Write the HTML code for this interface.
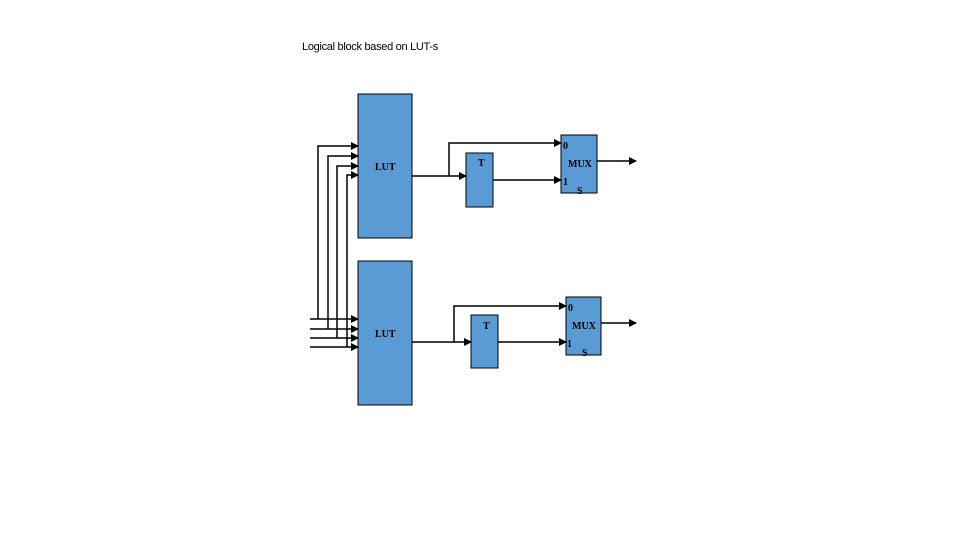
<!DOCTYPE html>
<html><head><meta charset="utf-8"><style>
html,body{margin:0;padding:0;background:#fff;}
svg{display:block;}
</style></head><body>
<svg width="960" height="540" xmlns="http://www.w3.org/2000/svg">
<defs><marker id="a" markerWidth="8" markerHeight="8" refX="7" refY="4" orient="auto" markerUnits="userSpaceOnUse"><path d="M0,0 L8,4 L0,8 z" fill="#000"/></marker></defs>
<text x="302" y="50" font-family="Liberation Sans Narrow, Liberation Sans, sans-serif" font-size="11" letter-spacing="-0.3">Logical block based on LUT-s</text>
<g fill="#5b9bd5" stroke="#000" stroke-width="1">
<rect x="358" y="94" width="54" height="144"/>
<rect x="358" y="261" width="54" height="144"/>
<rect x="466" y="153" width="27" height="54"/>
<rect x="471" y="315" width="27" height="53"/>
<rect x="561" y="135" width="36" height="58"/>
<rect x="566" y="297" width="35" height="58"/>
</g>
<g stroke="#000" stroke-width="1.5" fill="none">
<path d="M318,319 V146 H358" marker-end="url(#a)"/>
<path d="M328,329 V156 H358" marker-end="url(#a)"/>
<path d="M337,338 V166 H358" marker-end="url(#a)"/>
<path d="M347,347 V175 H358" marker-end="url(#a)"/>
<path d="M310,319 H358" marker-end="url(#a)"/>
<path d="M310,329 H358" marker-end="url(#a)"/>
<path d="M310,338 H358" marker-end="url(#a)"/>
<path d="M310,347 H358" marker-end="url(#a)"/>
<path d="M412,176 H466" marker-end="url(#a)"/>
<path d="M449,176 V143 H561" marker-end="url(#a)"/>
<path d="M493,180 H561" marker-end="url(#a)"/>
<path d="M597,161 H636" marker-end="url(#a)"/>
<path d="M412,342 H471" marker-end="url(#a)"/>
<path d="M454,342 V306 H566" marker-end="url(#a)"/>
<path d="M498,342 H566" marker-end="url(#a)"/>
<path d="M601,323 H636" marker-end="url(#a)"/>
</g>
<g font-family="Liberation Serif, serif" font-size="10" font-weight="bold" fill="#000">
<text x="375" y="170">LUT</text>
<text x="375" y="337">LUT</text>
<text x="478" y="166">T</text>
<text x="483" y="329">T</text>
<text x="568" y="167">MUX</text>
<text x="572" y="329">MUX</text>
<text x="563" y="149">0</text>
<text x="563" y="185">1</text>
<text x="577" y="194">S</text>
<text x="568" y="311">0</text>
<text x="567" y="347">1</text>
<text x="582" y="356">S</text>
</g>
</svg>
</body></html>
